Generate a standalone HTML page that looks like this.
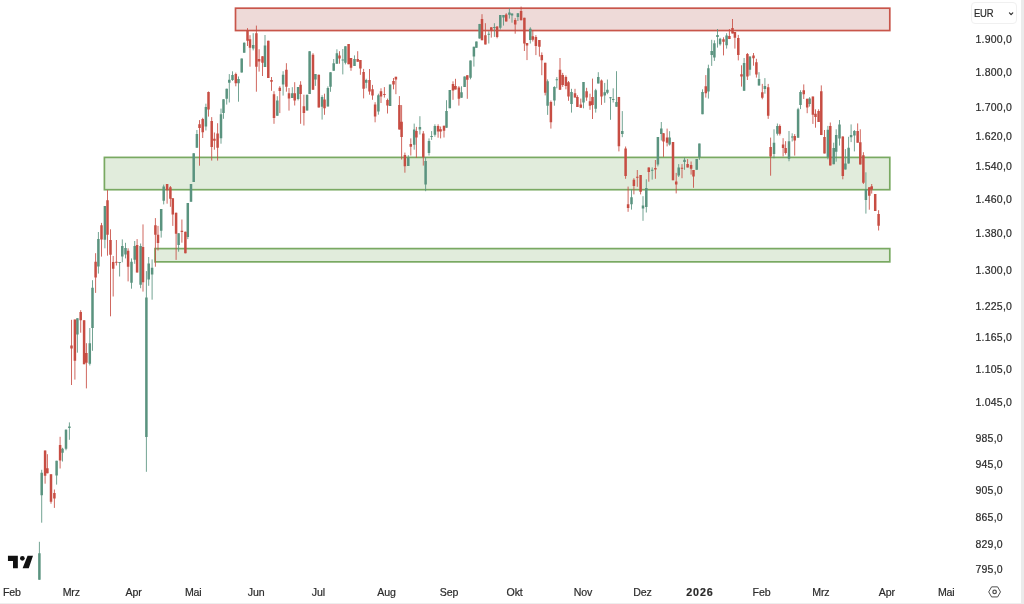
<!DOCTYPE html>
<html lang="de">
<head>
<meta charset="utf-8">
<title>Chart</title>
<style>
html,body{margin:0;padding:0;background:#fff;}
body{width:1024px;height:604px;overflow:hidden;position:relative;font-family:"Liberation Sans",sans-serif;color:#2b2b2b;-webkit-text-stroke:0.2px #2b2b2b;}
#chart{position:absolute;left:0;top:0;width:1024px;height:604px;display:block;}
.edge-r{position:absolute;left:1021px;top:0;width:3px;height:604px;background:#ebebeb;}
.edge-b{position:absolute;left:0;top:603px;width:1021px;height:1px;background:#eeeeee;}
.pl{position:absolute;left:975.4px;height:14px;line-height:14px;font-size:10.5px;white-space:nowrap;letter-spacing:0.25px;}
.tl{position:absolute;top:585px;height:14px;line-height:14px;font-size:10.6px;white-space:nowrap;transform:translateX(-50%);letter-spacing:-0.15px;}
.tl.b{font-weight:bold;letter-spacing:0.9px;font-size:10.7px;margin-left:0.6px;}
.cur{position:absolute;left:971.4px;top:2.2px;width:45.6px;height:21.5px;box-sizing:border-box;border:1px solid #f0f0f0;border-radius:4px;}
.cur span{position:absolute;left:1.7px;top:2.5px;height:14px;line-height:14px;font-size:10.8px;letter-spacing:-0.25px;transform:scaleX(0.875);transform-origin:0 50%;}
</style>
</head>
<body>
<svg id="chart" width="1024" height="604" viewBox="0 0 1024 604">
<g stroke-width="1.7">
<rect x="235.5" y="8.2" width="654.3" height="22.35" fill="#eedad8" stroke="#c8554a"/>
<rect x="104.4" y="157.4" width="785.4" height="32.3" fill="#e1ecdc" stroke="#79a962"/>
<rect x="155" y="248.6" width="734.8" height="13.25" fill="#e1ecdc" stroke="#79a962"/>
</g>
<g id="candles" fill="none">
<path stroke="#5a937f" stroke-width="0.85" d="M39.4 541.8V579.7M41.7 469.8V522.7M56.6 460.8V484.6M62.5 447.8V461.5M66 429.3V450.3M69.4 422.4V439.8M77.4 318.3V352.7M89.8 328V365.5M92.5 280.2V350.8M98.4 232V273.6M104.9 206.1V248.3M119.6 262V276.5M122.3 239.4V262.3M125.5 242.8V258.4M131.5 258.4V288.7M134.7 241V263.8M140.6 243.5V288.2M146.4 271.1V471.8M148.7 257V285.8M152.1 259.4V299.7M161.2 209V237.6M163.7 184.6V204.4M178.6 233.2V251.7M187.8 203.1V239.1M191 184.1V201.7M193.7 153.3V181.9M196.9 130V147.7M205.9 103.7V130.5M221 108.6V143.7M223.5 99.3V118.8M226.7 88.7V104.6M229.3 74.1V102.5M232.5 71.3V80.9M238.5 76.5V101.7M241.7 58.5V72.6M244.2 42.3V52.7M253.2 33.2V50.4M265 35V67M277.3 96.2V115.8M283.1 71.2V95.6M292.3 87.2V97.9M298.1 87.1V100.4M307.1 94.7V110.6M309.6 51.2V93.9M315.4 74V85.9M322.1 95.2V119.6M327.9 86.4V106.5M330.5 72.2V91.8M333.7 59V70.8M336.9 49.3V63.7M342.8 49V74.4M345.4 46.3V64.4M354.5 55.4V65.9M366.2 78.75V88.3M378.4 93.7V114.7M390.1 84.6V105.9M408.3 155.2V166M414.2 123.6V149.7M419.9 116.2V134.5M425.6 157.2V191.2M429 138.4V155.5M431.6 131.1V139.9M434.9 124.3V136.7M446.5 100.2V127.7M449.8 90.1V108.2M461.5 86.3V97.7M464.6 76.4V86.9M470.5 60.5V79.3M473.9 46.7V66.6M476.4 41.5V47.7M479.6 23.9V38.6M488.8 31.25V43.5M494.4 23.2V36.9M500.3 15.1V29.5M503.5 15.1V25.6M509.4 8.3V18.6M512 13.5V22.7M517.9 13.2V21M530.3 27.3V43.5M547.6 79.4V114.9M554.4 86.2V105.7M556.8 77.1V88.3M571.5 88.8V112.6M583.5 82V108.3M595.7 88.8V112.6M598.3 72.2V83.4M604.7 82.9V102.8M607.4 79.5V94.2M610.5 97.1V119.8M613.2 88.3V102.5M616.5 71.2V106.7M622.3 111.1V137.2M631.5 189.5V209.6M643 196.2V220.8M646.3 179.3V212.5M652.2 167.4V179.6M657.9 137.1V166.4M661.3 122V140.5M669.6 131.2V145.6M678.7 164.1V177M684.5 157.6V169.8M696.7 159.1V169.8M699.4 143.6V159.8M702.5 89.3V114.2M708.4 64.7V98.6M711.7 39.8V65.9M714.4 40.3V60.9M717.5 29V47.6M720.1 37.8V45.6M726.6 33.2V48.6M744.1 58V90.8M749.9 56.4V75.6M759 72.2V85.6M764.9 78.1V93.7M774 129.3V158.3M777.4 123.5V135.5M789 131V161.25M792.2 133.3V141.5M798.1 107.8V137.7M800.5 90.25V109.1M809.6 97.1V106.6M827.9 125.9V159.3M833.7 142.7V164.2M836.2 129.3V161.7M839.5 120V145.6M845.4 149.1V169.5M848.6 136.8V163.6M851.1 124.4V142.1M854.4 130V151.4M865.9 172.3V213.6"/>
<path stroke="#c74d43" stroke-width="0.85" d="M45.1 450.5V483.7M47.4 454.2V473.3M51 474.2V503.7M54.4 489.5V507.9M60.1 436.8V468.5M71.5 319.8V385M74.9 319.6V379.6M80.7 310.2V332.7M84.1 320.3V364.2M86.4 343.2V388.4M95.6 253.2V292.9M101.5 222.9V256.6M107.5 190.1V255.7M110.5 229.3V316.3M113.2 256V296.5M116.4 240V265.5M128.1 248.3V281.4M137.1 239.1V272.6M143 224.4V291.6M155.4 218.1V266.7M158 225.9V250.5M167.1 184.1V203.7M170.4 186V206.8M172.8 198.2V225.9M176.1 212.7V259.9M181.9 219.5V242.7M185.4 231.7V253.3M199.5 120.1V165.7M202.7 117.8V138M208.5 91.5V116.6M211.7 117.1V160.6M214.4 132.5V149.7M217.6 123.2V160.6M235.8 72.6V86.3M247.5 28.1V46M250 35.2V66.7M256.4 25.6V91.7M259.1 49.2V71.6M262.5 56.2V76M268.3 40.7V78M271.5 77V90.8M274 91.2V123.8M279.8 86.2V113.1M286.4 63.2V91.7M289 88V110.6M294.7 82.2V105.5M300.6 81.2V123.8M303.9 94.7V125.5M313 53.2V89.8M318.8 74.7V107.5M324.5 93.7V114.8M339.5 51.2V63.7M348.6 44.1V64.2M351 58.1V70.8M357.7 51.2V61.7M360.4 60V74.8M363.6 68.9V98.4M369.5 69V94.7M372.5 84.9V99.8M375.1 102.2V122.3M381 88.3V103M384.4 87.1V97.6M387.5 98.6V113.5M393.5 78V89.3M395.9 76.8V94.2M399.4 96.1V129.6M401.6 105.1V159.5M404.9 152.6V172.7M410.8 138.4V155.5M416.4 126.9V157.8M423.3 131.1V165.6M438.1 124.3V137.7M440.6 126.5V138.4M444 125.7V137.5M453 81.3V99.8M455.5 78.8V89.5M458.9 86.1V105.6M467.3 75.2V98.8M482 14.2V40.2M485.4 23.2V44.4M491.3 27.3V37.6M497.1 26.4V38.3M506.2 13.2V21.5M515.2 18.1V33.7M521.1 6.6V20.3M524.4 17.8V51M527 43V60.1M532.8 30.3V41.5M535.9 35.2V55.1M539.4 40V56.6M541.8 52.4V75.2M545.2 62.8V95.4M550.9 100.5V128.6M560 58V89.8M562.7 72.9V86.9M565.9 75.4V89.3M568.5 81V100.8M575 88.8V97.6M577.4 95.2V106.9M580.8 98.6V107.7M586.6 87.8V100.8M590 93.7V109.8M592.5 78.6V119M601.5 79.5V104.9M618.9 96.9V151.4M625.6 146.5V178.8M628.1 186.6V211.8M633.9 178.2V194.4M637.3 170V186.8M640.6 175V194.4M648.8 167.4V181.7M655.4 160V178.8M663.5 133.2V156.9M667.1 128.6V146.4M673 142V180.25M676.2 172.9V193.4M682 164.1V178.2M687.6 159.1V167.4M691.1 161.5V174.6M693.5 170V187.8M705.8 75.1V97.6M723.5 37.3V55.4M729.4 29V39.1M732.5 19V33.4M734.9 32V48.6M738.3 34.9V60.4M741.5 65.3V86.6M747.4 53V80M753.5 53V65.7M756.4 58.8V77.6M762.3 83.9V99.3M768.2 83.9V118.9M770.6 137.6V175.7M779.8 124.4V135.5M783.1 138.2V156.4M785.6 141.2V154.6M794.7 134.1V155.6M803.75 84.4V99M807.2 98.75V113.2M812.9 96.6V123.9M815.5 109.3V127.7M818.6 109.3V122M821.3 85.4V135.1M824.5 130V153.4M830.3 122.5V165.4M842.8 136.4V179.3M857.65 123.4V142.7M860.3 129.3V164.5M863.4 152.2V184M869.3 187.2V209.7M871.7 184V193.6M875.2 194V210.9M878.6 210.2V230.5"/>
<path fill="#5a937f" d="M38.15 553.3h2.5v26.4h-2.5zM40.45 472.8h2.5v22.4h-2.5zM55.35 460.8h2.5v14.7h-2.5zM61.25 448.8h2.5v3.9h-2.5zM64.75 429.8h2.5v19h-2.5zM68.15 426.6h2.5v1.4h-2.5zM76.15 318.3h2.5v16.1h-2.5zM88.55 343.2h2.5v20.5h-2.5zM91.25 287.7h2.5v40.2h-2.5zM97.15 239.1h2.5v27.4h-2.5zM103.65 206.1h2.5v33.7h-2.5zM118.35 262h2.5v1h-2.5zM121.05 245.9h2.5v10.7h-2.5zM124.25 247.9h2.5v6.6h-2.5zM130.25 261.8h2.5v21h-2.5zM133.45 245.9h2.5v13.8h-2.5zM139.35 245.9h2.5v38.9h-2.5zM145.15 297.5h2.5v139.6h-2.5zM147.45 263.6h2.5v16h-2.5zM150.85 267.7h2.5v6.8h-2.5zM159.95 209h2.5v21.8h-2.5zM162.45 186.5h2.5v14.2h-2.5zM177.35 233.2h2.5v11.7h-2.5zM186.55 203.1h2.5v33.8h-2.5zM189.75 184.1h2.5v17.6h-2.5zM192.45 153.3h2.5v28.6h-2.5zM195.65 133.9h2.5v13.8h-2.5zM204.65 107.1h2.5v19.5h-2.5zM219.75 114.2h2.5v24.1h-2.5zM222.25 99.3h2.5v13.6h-2.5zM225.45 88.7h2.5v10.1h-2.5zM228.05 79.7h2.5v3h-2.5zM231.25 75h2.5v4.9h-2.5zM237.25 78.9h2.5v4.4h-2.5zM240.45 58.5h2.5v14.1h-2.5zM242.95 42.8h2.5v9.9h-2.5zM251.95 45h2.5v3.6h-2.5zM263.75 45.6h2.5v21.4h-2.5zM276.05 100.4h2.5v15.4h-2.5zM281.85 74.7h2.5v9.7h-2.5zM291.05 93.2h2.5v4.7h-2.5zM296.85 87.1h2.5v11.8h-2.5zM305.85 94.7h2.5v15.9h-2.5zM308.35 51.2h2.5v42.7h-2.5zM314.15 74h2.5v5.6h-2.5zM320.85 97.1h2.5v9.6h-2.5zM326.65 87.9h2.5v18.6h-2.5zM329.25 72.2h2.5v14.5h-2.5zM332.45 63.2h2.5v7.6h-2.5zM335.65 53.2h2.5v10.5h-2.5zM341.55 59.5h2.5v1h-2.5zM344.15 46.3h2.5v16.4h-2.5zM353.25 59h2.5v6.9h-2.5zM364.95 80h2.5v2.7h-2.5zM377.15 95.2h2.5v16.4h-2.5zM388.85 84.6h2.5v21.3h-2.5zM407.05 157.4h2.5v8.6h-2.5zM412.95 129.5h2.5v15.3h-2.5zM418.65 126.9h2.5v2.7h-2.5zM424.35 160.9h2.5v23.5h-2.5zM427.75 140.9h2.5v12h-2.5zM430.35 136h2.5v1h-2.5zM433.65 125.9h2.5v8.9h-2.5zM445.25 111h2.5v16.7h-2.5zM448.55 90.1h2.5v18.1h-2.5zM460.25 92.2h2.5v5.5h-2.5zM463.35 76.4h2.5v10.5h-2.5zM469.25 60.5h2.5v17.3h-2.5zM472.65 46.7h2.5v9.9h-2.5zM475.15 41.5h2.5v6.2h-2.5zM478.35 23.9h2.5v14.7h-2.5zM487.55 33.7h2.5v1h-2.5zM493.15 27h2.5v1h-2.5zM499.05 15.1h2.5v12.7h-2.5zM502.25 15.1h2.5v2.5h-2.5zM508.15 12.5h2.5v2.3h-2.5zM510.75 13.5h2.5v2.1h-2.5zM516.65 13.2h2.5v3.9h-2.5zM529.05 28.8h2.5v11.2h-2.5zM546.35 81.3h2.5v24.4h-2.5zM553.15 87.1h2.5v13.4h-2.5zM555.55 79.3h2.5v1h-2.5zM570.25 92h2.5v11.9h-2.5zM582.25 82h2.5v20.5h-2.5zM594.45 90.3h2.5v18.5h-2.5zM597.05 77.1h2.5v6.3h-2.5zM603.45 92.2h2.5v3.4h-2.5zM606.15 89.8h2.5v2.9h-2.5zM609.25 97.3h2.5v1h-2.5zM611.95 99h2.5v1h-2.5zM615.25 102h2.5v4.7h-2.5zM621.05 131h2.5v2.9h-2.5zM630.25 197.3h2.5v6.9h-2.5zM641.75 205.6h2.5v3h-2.5zM645.05 188.1h2.5v18.8h-2.5zM650.95 169.8h2.5v1h-2.5zM656.65 137.1h2.5v27.3h-2.5zM660.05 128.6h2.5v5.3h-2.5zM668.35 137.6h2.5v6.8h-2.5zM677.45 167.4h2.5v8.2h-2.5zM683.25 159.8h2.5v2.2h-2.5zM695.45 159.1h2.5v10.7h-2.5zM698.15 143.6h2.5v13.5h-2.5zM701.25 92h2.5v22.2h-2.5zM707.15 68.3h2.5v23.1h-2.5zM710.45 51h2.5v3.9h-2.5zM713.15 43.2h2.5v14.2h-2.5zM716.25 34.9h2.5v2h-2.5zM718.85 38.8h2.5v5.4h-2.5zM725.35 35.6h2.5v9.6h-2.5zM742.85 63.1h2.5v27.7h-2.5zM748.65 56.4h2.5v13.4h-2.5zM757.75 79h2.5v6.6h-2.5zM763.65 86.1h2.5v2.9h-2.5zM772.75 142.7h2.5v11.2h-2.5zM776.15 125.9h2.5v7.8h-2.5zM787.75 141.2h2.5v17.6h-2.5zM790.95 136.5h2.5v1h-2.5zM796.85 109.3h2.5v28.4h-2.5zM799.25 91.9h2.5v13h-2.5zM808.35 98.6h2.5v5.3h-2.5zM826.65 129.8h2.5v27.1h-2.5zM832.45 148.1h2.5v16.1h-2.5zM834.95 135.1h2.5v16.6h-2.5zM838.25 124.4h2.5v14.2h-2.5zM844.15 163.6h2.5v5.9h-2.5zM847.35 147.8h2.5v15.8h-2.5zM849.85 135.1h2.5v2.2h-2.5zM853.15 131h2.5v4.4h-2.5zM864.65 189.6h2.5v10.3h-2.5z"/>
<path fill="#c74d43" d="M43.85 450.5h2.5v25.3h-2.5zM46.15 468.3h2.5v5h-2.5zM49.75 474.3h2.5v27.4h-2.5zM53.15 493.1h2.5v5.5h-2.5zM58.85 445.1h2.5v15.4h-2.5zM70.25 345.6h2.5v3h-2.5zM73.65 319.6h2.5v41.2h-2.5zM79.45 312.1h2.5v8.2h-2.5zM82.85 320.3h2.5v43.9h-2.5zM85.15 353h2.5v9.7h-2.5zM94.35 261.8h2.5v15.7h-2.5zM100.25 225.2h2.5v14.4h-2.5zM106.25 200.2h2.5v34.5h-2.5zM109.25 240h2.5v14.7h-2.5zM111.95 262h2.5v6.7h-2.5zM115.15 261.8h2.5v1h-2.5zM126.85 250.8h2.5v15.9h-2.5zM135.85 245.1h2.5v27.5h-2.5zM141.75 246.9h2.5v35.4h-2.5zM154.15 225.2h2.5v9.5h-2.5zM156.75 234.7h2.5v8.3h-2.5zM165.85 184.1h2.5v6.1h-2.5zM169.15 187.2h2.5v11.6h-2.5zM171.55 198.2h2.5v16.4h-2.5zM174.85 212.7h2.5v21h-2.5zM180.65 230.8h2.5v1.2h-2.5zM184.15 231.7h2.5v21.6h-2.5zM198.25 124.2h2.5v3.9h-2.5zM201.45 119.1h2.5v13.1h-2.5zM207.25 92.1h2.5v17.4h-2.5zM210.45 121.1h2.5v25.9h-2.5zM213.15 138.8h2.5v2h-2.5zM216.35 133.5h2.5v14.2h-2.5zM234.55 73.9h2.5v9.4h-2.5zM246.25 30.3h2.5v10.5h-2.5zM248.75 39.2h2.5v8.5h-2.5zM255.15 33.2h2.5v33.5h-2.5zM257.85 58.9h2.5v2.7h-2.5zM261.25 56.2h2.5v6.6h-2.5zM267.05 40.7h2.5v37.3h-2.5zM270.25 80.1h2.5v1.7h-2.5zM272.75 94.3h2.5v23.7h-2.5zM278.55 87.8h2.5v3.2h-2.5zM285.15 69.8h2.5v16.9h-2.5zM287.75 93.2h2.5v5.2h-2.5zM293.45 93.2h2.5v7.2h-2.5zM299.35 84.7h2.5v9.2h-2.5zM302.65 106.2h2.5v6.9h-2.5zM311.75 54.8h2.5v35h-2.5zM317.55 74.7h2.5v32.8h-2.5zM323.25 99.4h2.5v8.8h-2.5zM338.25 55.6h2.5v3h-2.5zM347.35 44.1h2.5v20.1h-2.5zM349.75 58.1h2.5v9.7h-2.5zM356.45 59h2.5v2.7h-2.5zM359.15 60h2.5v8.6h-2.5zM362.35 72.1h2.5v16.7h-2.5zM368.25 80h2.5v11.4h-2.5zM371.25 89.3h2.5v6.3h-2.5zM373.85 104.4h2.5v12.1h-2.5zM379.75 91.25h2.5v5.35h-2.5zM383.15 94h2.5v1h-2.5zM386.25 100h2.5v5.4h-2.5zM392.25 81h2.5v3.4h-2.5zM394.65 76.8h2.5v2.7h-2.5zM398.15 105.1h2.5v24.5h-2.5zM400.35 121.8h2.5v15.2h-2.5zM403.65 155h2.5v11.2h-2.5zM409.55 144.1h2.5v2.6h-2.5zM415.15 131.1h2.5v6.4h-2.5zM422.05 133.6h2.5v23.6h-2.5zM436.85 125.9h2.5v5.7h-2.5zM439.35 129.2h2.5v2.2h-2.5zM442.75 125.7h2.5v5.1h-2.5zM451.75 84h2.5v6.6h-2.5zM454.25 86.1h2.5v3.4h-2.5zM457.65 87.5h2.5v11.3h-2.5zM466.05 75.2h2.5v4.6h-2.5zM480.75 19h2.5v21.2h-2.5zM484.15 35.2h2.5v9.2h-2.5zM490.05 27.3h2.5v3h-2.5zM495.85 26.4h2.5v10.5h-2.5zM504.95 14.6h2.5v6.9h-2.5zM513.95 20h2.5v4.6h-2.5zM519.85 10.9h2.5v9.4h-2.5zM523.15 17.8h2.5v25.7h-2.5zM525.75 43h2.5v2.4h-2.5zM531.55 36.3h2.5v3.5h-2.5zM534.65 37.1h2.5v8.8h-2.5zM538.15 40h2.5v6.7h-2.5zM540.55 55.1h2.5v5.15h-2.5zM543.95 62.8h2.5v29.9h-2.5zM549.65 102h2.5v20.2h-2.5zM558.75 69.8h2.5v20h-2.5zM561.45 75.1h2.5v9.8h-2.5zM564.65 77.1h2.5v8.8h-2.5zM567.25 82.3h2.5v14.3h-2.5zM573.75 93.2h2.5v4.4h-2.5zM576.15 96.9h2.5v10h-2.5zM579.55 104.4h2.5v3.3h-2.5zM585.35 91.25h2.5v6.35h-2.5zM588.75 101.2h2.5v4.5h-2.5zM591.25 97.1h2.5v7.8h-2.5zM600.25 80.5h2.5v16.1h-2.5zM617.65 96.9h2.5v49.4h-2.5zM624.35 148.5h2.5v27.6h-2.5zM626.85 204.2h2.5v3.7h-2.5zM632.65 179.8h2.5v6.3h-2.5zM636.05 176.8h2.5v1h-2.5zM639.35 175h2.5v16.7h-2.5zM647.55 167.4h2.5v4.5h-2.5zM654.15 167.9h2.5v1.7h-2.5zM662.25 133.2h2.5v8.3h-2.5zM665.85 137.6h2.5v5.1h-2.5zM671.75 142h2.5v38.25h-2.5zM674.95 181.5h2.5v3.1h-2.5zM680.75 167.8h2.5v1h-2.5zM686.35 164.1h2.5v3.3h-2.5zM689.85 164.9h2.5v3.9h-2.5zM692.25 170h2.5v6.6h-2.5zM704.55 86.2h2.5v7h-2.5zM722.25 39.3h2.5v2.4h-2.5zM728.15 35.9h2.5v3.2h-2.5zM731.25 28.1h2.5v5.3h-2.5zM733.65 32h2.5v5.8h-2.5zM737.05 38.1h2.5v17h-2.5zM740.25 74.2h2.5v2.4h-2.5zM746.15 53.9h2.5v22.7h-2.5zM752.25 55.4h2.5v2.9h-2.5zM755.15 62.2h2.5v12.4h-2.5zM761.05 92.2h2.5v5.5h-2.5zM766.95 87.3h2.5v28.5h-2.5zM769.35 147.1h2.5v9.5h-2.5zM778.55 125.9h2.5v7.9h-2.5zM781.85 144.5h2.5v3.6h-2.5zM784.35 148.1h2.5v4.8h-2.5zM793.45 136.1h2.5v4.4h-2.5zM802.5 90.25h2.5v3.95h-2.5zM805.95 98.75h2.5v8.75h-2.5zM811.65 96.6h2.5v18.1h-2.5zM814.25 113.7h2.5v3.4h-2.5zM817.35 111.1h2.5v10.9h-2.5zM820.05 91.2h2.5v43.9h-2.5zM823.25 137h2.5v16.4h-2.5zM829.05 125.9h2.5v39.5h-2.5zM841.55 136.4h2.5v39.5h-2.5zM856.4 131.1h2.5v11.6h-2.5zM859.05 142.3h2.5v22.2h-2.5zM862.15 155.2h2.5v27.6h-2.5zM868.05 187.2h2.5v8.5h-2.5zM870.45 186.2h2.5v3.4h-2.5zM873.95 194h2.5v16.9h-2.5zM877.35 214.1h2.5v11.7h-2.5z"/>
</g>
<g fill="#111"><path d="M7.95 555.8H17.85V568.2H13V561H7.95zM27.55 555.8H33L28.75 568.2H22.6z"/><circle cx="22.35" cy="558.3" r="2.35"/></g>
<g fill="none" stroke="#505050" stroke-width="1"><path d="M988.7 591.9l2.9-5.05h6l2.9 5.05-2.9 5.05h-6z" stroke-linejoin="round"/><circle cx="994.6" cy="591.9" r="1.75" stroke-width="1.25"/></g>
<path d="M1009.45 12.9l1.65 1.65 1.65-1.65" fill="none" stroke="#2b2b2b" stroke-width="1.2" stroke-linecap="round" stroke-linejoin="round"/>
</svg>
<div class="edge-r"></div><div class="edge-b"></div>
<div class="cur"><span>EUR</span></div>
<div class="pl" style="top:32px">1.900,0</div>
<div class="pl" style="top:65px">1.800,0</div>
<div class="pl" style="top:100px">1.700,0</div>
<div class="pl" style="top:129px">1.620,0</div>
<div class="pl" style="top:159px">1.540,0</div>
<div class="pl" style="top:192px">1.460,0</div>
<div class="pl" style="top:226px">1.380,0</div>
<div class="pl" style="top:263px">1.300,0</div>
<div class="pl" style="top:299px">1.225,0</div>
<div class="pl" style="top:330px">1.165,0</div>
<div class="pl" style="top:362px">1.105,0</div>
<div class="pl" style="top:395px">1.045,0</div>
<div class="pl" style="top:431px">985,0</div>
<div class="pl" style="top:457px">945,0</div>
<div class="pl" style="top:483px">905,0</div>
<div class="pl" style="top:510px">865,0</div>
<div class="pl" style="top:537px">829,0</div>
<div class="pl" style="top:562px">795,0</div>
<div class="tl" style="left:11.9px">Feb</div>
<div class="tl" style="left:71.3px">Mrz</div>
<div class="tl" style="left:133.6px">Apr</div>
<div class="tl" style="left:193.2px">Mai</div>
<div class="tl" style="left:256.1px">Jun</div>
<div class="tl" style="left:318.3px">Jul</div>
<div class="tl" style="left:386.5px">Aug</div>
<div class="tl" style="left:449px">Sep</div>
<div class="tl" style="left:514.6px">Okt</div>
<div class="tl" style="left:583px">Nov</div>
<div class="tl" style="left:642.5px">Dez</div>
<div class="tl b" style="left:699.3px">2026</div>
<div class="tl" style="left:761.5px">Feb</div>
<div class="tl" style="left:820.9px">Mrz</div>
<div class="tl" style="left:886.8px">Apr</div>
<div class="tl" style="left:946.2px">Mai</div>
</body>
</html>
